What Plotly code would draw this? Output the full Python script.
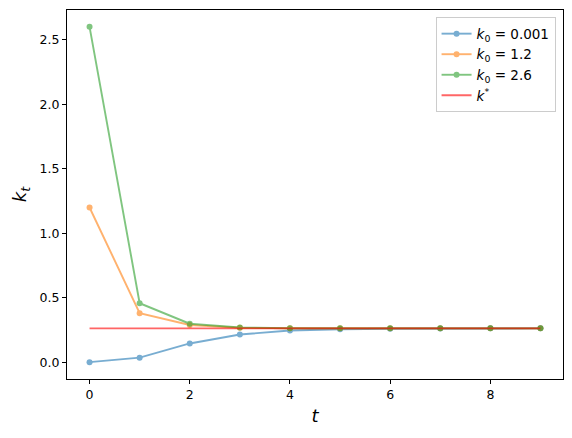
import plotly.graph_objects as go

t = list(range(10))
k_a = [0.001, 0.036, 0.146, 0.215, 0.246, 0.256, 0.260, 0.262, 0.263, 0.263]
k_b = [1.2, 0.381, 0.289, 0.268, 0.264, 0.263, 0.263, 0.263, 0.263, 0.263]
k_c = [2.6, 0.458, 0.299, 0.270, 0.264, 0.263, 0.263, 0.263, 0.263, 0.263]
k_star = 0.263
names = ["<i>k</i><sub>0</sub> = 0.001", "<i>k</i><sub>0</sub> = 1.2", "<i>k</i><sub>0</sub> = 2.6"]
colors = ["#1f77b4", "#ff7f0e", "#2ca02c"]

fig = go.Figure()
for ys, nm, c in zip([k_a, k_b, k_c], names, colors):
    fig.add_trace(go.Scatter(x=t, y=ys, mode="lines+markers", name=nm,
                             line=dict(color=c, width=1.9),
                             marker=dict(size=6, color=c), opacity=0.6))
fig.add_trace(go.Scatter(x=[t[0], t[-1]], y=[k_star, k_star], mode="lines",
                         name="<i>k</i><sup>*</sup>", line=dict(color="red", width=1.9),
                         opacity=0.6))

axis_common = dict(showline=True, linecolor="black", linewidth=1, mirror=True,
                   ticks="outside", ticklen=4, tickwidth=1, tickcolor="black",
                   showgrid=False, zeroline=False,
                   tickfont=dict(family="DejaVu Sans", size=12.5, color="black"))
fig.update_layout(
    width=572, height=438,
    margin=dict(l=67, r=9, t=10, b=59),
    plot_bgcolor="white", paper_bgcolor="white",
    font=dict(family="DejaVu Sans", size=12, color="black"),
    xaxis=dict(range=[-0.45, 9.45], tickvals=[0, 2, 4, 6, 8],
               title=dict(text="<i>t</i>", font=dict(size=18), standoff=8), **axis_common),
    yaxis=dict(range=[-0.1295, 2.7305], tickvals=[0, 0.5, 1.0, 1.5, 2.0, 2.5],
               ticktext=["0.0", "0.5", "1.0", "1.5", "2.0", "2.5"],
               title=dict(text="<i>k<sub>t</sub></i>", font=dict(size=18), standoff=8), **axis_common),
    legend=dict(x=0.985, y=0.98, xanchor="right", yanchor="top",
                bgcolor="rgba(255,255,255,0.8)", bordercolor="#cccccc", borderwidth=1,
                font=dict(size=13.5), tracegroupgap=0),
)
fig.write_html("out.html", config={"displayModeBar": False},
               post_script="document.body.style.margin='0';")
